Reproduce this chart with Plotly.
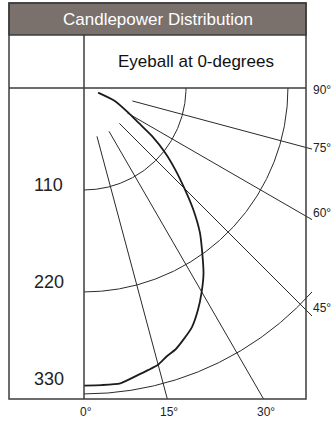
import numpy as np
import plotly.graph_objects as go

# ---------------- data ----------------
title_text = "Candlepower Distribution"
subtitle_text = "Eyeball at 0-degrees"

radii = [110, 220, 330]
radius_labels = ["110", "220", "330"]

bottom_angles = [0, 15, 30]
bottom_labels = ["0°", "15°", "30°"]
right_angles = [90, 75, 60, 45]
right_labels = ["90°", "75°", "60°", "45°"]

radial_angles = [15, 30, 45, 60, 75]
radial_start = 54

curve_angle = [0, 3.4, 7.0, 10.7, 15.0, 17.1, 19.2, 21.5, 24.3, 27.2, 29.8,
               32.8, 36.1, 38.7, 42.0, 44.9, 48.2, 51.4, 54.7, 57.4, 60.9,
               67.3, 71.8]
curve_cd = [321, 321, 321, 315, 309, 303, 299, 292, 283, 269, 255,
            238, 216, 200, 176, 154, 132, 112, 90, 70, 55,
            36, 16]

# ---------------- layout geometry ----------------
W, H = 331, 422
L, R, T, B = 84, 19, 88, 23
PW, PH = W - L - R, H - T - B
SCALE = 0.927  # px per candela unit
XMAX = PW / SCALE
YMIN = -PH / SCALE


def px_x(px):
    return (px - L) / PW


def px_y(py):
    return (H - B - py) / PH


def polar(theta_deg, r):
    t = np.radians(np.asarray(theta_deg, dtype=float))
    r = np.asarray(r, dtype=float)
    return r * np.sin(t), -r * np.cos(t)


GRID = "#2a2a2a"
FRAME = "#3c3c3c"
HEADER = "#7a706c"
SANS = "Liberation Sans, Arial, Helvetica, sans-serif"

fig = go.Figure()

# arcs
arc_t = np.linspace(0, 90, 271)
for r in radii:
    x, y = polar(arc_t, np.full_like(arc_t, r))
    fig.add_trace(go.Scatter(x=x, y=y, mode="lines",
                             line=dict(color=GRID, width=1), hoverinfo="skip"))

# radial lines
for a in radial_angles:
    x, y = polar([a, a], [radial_start, 600])
    fig.add_trace(go.Scatter(x=x, y=y, mode="lines",
                             line=dict(color=GRID, width=1), hoverinfo="skip"))

# candlepower curve
cx, cy = polar(curve_angle, curve_cd)
fig.add_trace(go.Scatter(x=cx, y=cy, mode="lines",
                         line=dict(color="#1c1c1c", width=1.8, shape="spline", smoothing=0.5),
                         name="Candela"))

# ---------------- frame ----------------
x_left = px_x(9)
x_right = px_x(306)
y_top = px_y(3)
y_head = px_y(35)
shapes = [
    dict(type="rect", xref="paper", yref="paper", x0=x_left, x1=x_right,
         y0=y_head, y1=y_top, fillcolor=HEADER, line=dict(color=FRAME, width=1.5)),
    dict(type="rect", xref="paper", yref="paper", x0=x_left, x1=x_right,
         y0=0, y1=y_top, line=dict(color=FRAME, width=1.5)),
    dict(type="line", xref="paper", yref="paper", x0=x_left, x1=x_right,
         y0=1, y1=1, line=dict(color=FRAME, width=1.5)),
    dict(type="line", xref="paper", yref="paper", x0=0, x1=0,
         y0=0, y1=y_head, line=dict(color=FRAME, width=1.5)),
]

annotations = [
    dict(text=title_text, xref="paper", yref="paper", x=(x_left + x_right) / 2,
         y=px_y(19), showarrow=False, xanchor="center", yanchor="middle",
         font=dict(family=SANS, size=17, color="white")),
    dict(text=subtitle_text, xref="paper", yref="paper", x=px_x(196),
         y=px_y(62), showarrow=False, xanchor="center", yanchor="middle",
         font=dict(family=SANS, size=17, color="#111111")),
]

for r, lab in zip(radii, radius_labels):
    annotations.append(dict(text=lab, xref="paper", yref="y", x=px_x(48.5), y=-0.95 * r,
                            showarrow=False, xanchor="center", yanchor="middle",
                            font=dict(family=SANS, size=18, color="#222222")))

for a, lab in zip(bottom_angles, bottom_labels):
    annotations.append(dict(text=lab, xref="x", yref="y", x=-YMIN * np.tan(np.radians(a)), y=YMIN,
                            showarrow=False, xanchor="center", yanchor="middle",
                            xshift=2, yshift=-13,
                            font=dict(family=SANS, size=12, color="#222222")))

right_yshift = [-2, 1, 7, 8]
for a, lab, ys in zip(right_angles, right_labels, right_yshift):
    t = np.radians(a)
    annotations.append(dict(text=lab, xref="x", yref="y", x=XMAX,
                            y=-XMAX * np.cos(t) / np.sin(t),
                            showarrow=False, xanchor="left", yanchor="middle",
                            xshift=-1, yshift=ys,
                            font=dict(family=SANS, size=12, color="#222222")))

axis_common = dict(showgrid=False, zeroline=False, showticklabels=False,
                   showline=False, ticks="", fixedrange=True)
fig.update_layout(
    width=W, height=H,
    margin=dict(l=L, r=R, t=T, b=B, pad=0),
    paper_bgcolor="white", plot_bgcolor="white",
    showlegend=False,
    xaxis=dict(range=[0, XMAX], **axis_common),
    yaxis=dict(range=[YMIN, 0], **axis_common),
    shapes=shapes,
    annotations=annotations,
)

fig.write_html("out.html", config={"displayModeBar": False},
               post_script="document.body.style.margin='0';document.body.style.overflow='hidden';")
